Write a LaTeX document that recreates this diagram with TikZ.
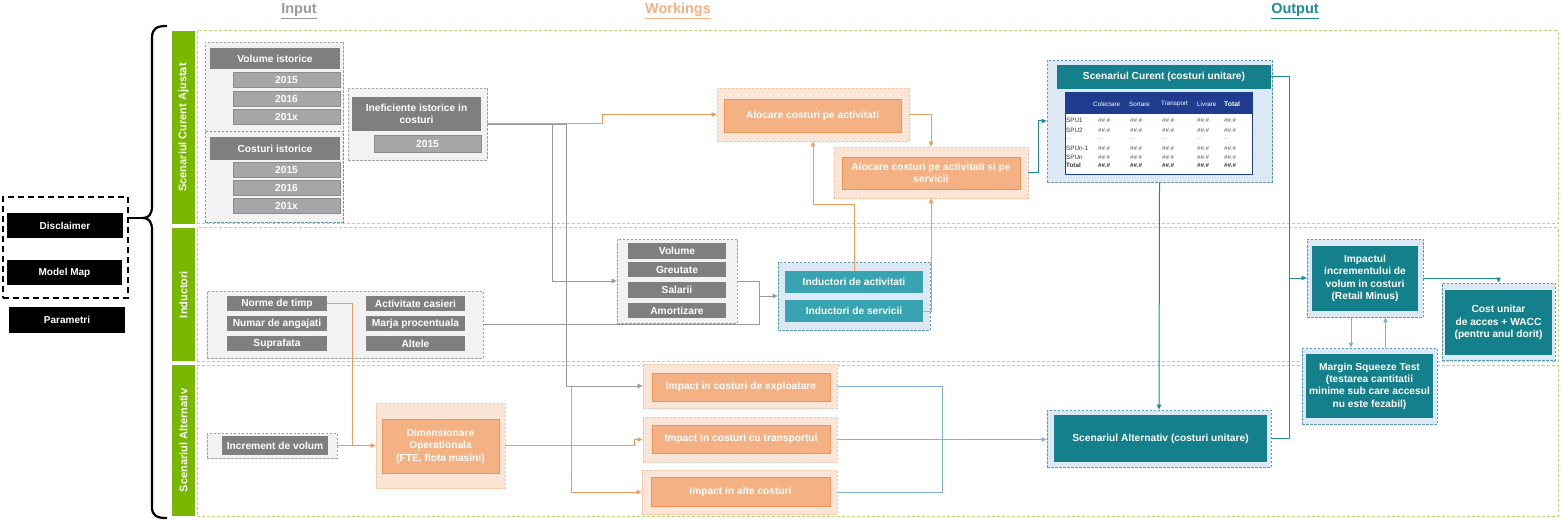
\documentclass[tikz,border=0pt]{standalone}
\usepackage{fontspec}
\setmainfont{Liberation Sans}
\usetikzlibrary{arrows.meta}
\definecolor{dgray}{HTML}{7F7F7F}
\definecolor{lgray}{HTML}{A6A6A6}
\definecolor{ggfill}{HTML}{F2F2F2}
\definecolor{ggbord}{HTML}{A0A0A0}
\definecolor{oin}{HTML}{F4B183}
\definecolor{oinb}{HTML}{EE9455}
\definecolor{oout}{HTML}{FBE5D6}
\definecolor{ooutb}{HTML}{F6C4A3}
\definecolor{olc}{HTML}{F19A5C}
\definecolor{tealc}{HTML}{13808C}
\definecolor{tealm}{HTML}{38A3B1}
\definecolor{tlc}{HTML}{1C8B9A}
\definecolor{bfill}{HTML}{DCE9F5}
\definecolor{bbord}{HTML}{5E9AB0}
\definecolor{gbarc}{HTML}{78B800}
\definecolor{gdash}{HTML}{B9D86E}
\definecolor{lbline}{HTML}{7FB2E0}
\definecolor{navyc}{HTML}{1F3C8F}
\definecolor{glc}{HTML}{9A9A9A}
\newcommand\mybox[7]{%
  \pgfmathsetmacro\mbcx{(#3+#5)/2}\pgfmathsetmacro\mbcy{(#4+#6)/2}%
  \pgfmathsetmacro\mbw{#5-#3}\pgfmathsetmacro\mbh{#6-#4}%
  \node[#1, minimum width=\mbw pt, minimum height=\mbh pt] (#2) at (\mbcx,\mbcy) {#7};}
\tikzset{
  box/.style={inner sep=0pt, align=center, text=white, font=\fontsize{10.2}{12.4}\selectfont\bfseries},
  dbox/.style={box, fill=dgray},
  ybox/.style={box, fill=lgray, draw=gray!90, line width=0.5pt},
  blk/.style={box, fill=black, font=\fontsize{10}{12}\selectfont\bfseries},
  grp/.style={inner sep=0pt, dash pattern=on 2.5pt off 1.5pt, line width=0.8pt},
  ggroup/.style={grp, fill=ggfill, draw=ggbord},
  ggroupb/.style={grp, fill=ggfill, draw=bbord},
  bgroup/.style={grp, fill=bfill, draw=bbord},
  ogroup/.style={grp, fill=oout, draw=ooutb},
  obox/.style={box, fill=oin, draw=oinb, line width=0.8pt},
  tbox/.style={box, fill=tealc},
  tmbox/.style={box, fill=tealm},
  lanebox/.style={inner sep=0pt, draw=gdash, dash pattern=on 3pt off 2pt, line width=1pt},
  navbox/.style={inner sep=0pt, draw=black, dash pattern=on 6pt off 4pt, line width=1.6pt},
  gbar/.style={inner sep=0pt, fill=gbarc, text=white, font=\fontsize{11}{13}\selectfont\bfseries, rotate=90, minimum height=23pt},
  hdr/.style={font=\fontsize{14.5}{16}\selectfont\bfseries},
  gl/.style={draw=glc, line width=0.8pt},
  ol/.style={draw=olc, line width=1pt},
  tl/.style={draw=tlc, line width=1pt},
  bl/.style={draw=lbline, line width=1pt},
  arr/.style={-{Triangle[length=5pt,width=4.5pt]}},
  tblbody/.style={inner sep=0pt, draw=navyc, fill=white, line width=0.8pt},
  tblhead/.style={inner sep=0pt, fill=navyc},
  th/.style={inner sep=0pt, anchor=west, text=white, font=\fontsize{6.3}{7}\selectfont},
  td/.style={inner sep=0pt, anchor=west, text=black!80, font=\fontsize{6.3}{7}\selectfont},
  tv/.style={inner sep=0pt, anchor=west, text=black!65, font=\fontsize{6}{7}\selectfont\itshape},
}
\begin{document}
\begin{tikzpicture}[x=1pt,y=-1pt]
\useasboundingbox (0,0) rectangle (1562,521);

% headers
\node[hdr, text=glc] (hIn) at (299,11) {\underline{Input}};
\node[hdr, text=oin] (hWo) at (678,11) {\underline{Workings}};
\node[hdr, text=tlc] (hOu) at (1295,11) {\underline{Output}};

% left navigation
\mybox{navbox}{navG}{3}{197}{128}{298}{}
\mybox{blk}{disc}{7}{213}{123}{238}{Disclaimer}
\mybox{blk}{mmap}{7}{260}{122}{285}{Model Map}
\mybox{blk}{param}{9}{307}{125}{333}{Parametri}

% brace
\draw[line width=2.2pt] (167,26) .. controls (157,26) and (152,28) .. (152,38) -- (152,206) .. controls (152,214) and (149,218) .. (143,218) .. controls (149,218) and (152,222) .. (152,230) -- (152,507) .. controls (152,516) and (157,518) .. (167,518);
\coordinate (btip) at (143,218);
\draw[line width=1.6pt] (navG.east |- btip) -- (btip);

% lanes
\mybox{lanebox}{lane1}{197}{31}{1558}{224}{}
\mybox{lanebox}{lane2}{197}{228}{1558}{361}{}
\mybox{lanebox}{lane3}{197}{365}{1558}{516}{}
\node[gbar, minimum width=193pt] (bar1) at (183.5,127.5) {Scenariul Curent Ajustat};
\node[gbar, minimum width=133pt] (bar2) at (183.5,294.5) {Inductori};
\node[gbar, minimum width=151pt] (bar3) at (183.5,440.5) {Scenariul Alternativ};

% input lane 1
\mybox{ggroup}{volG}{205}{42}{343}{131}{}
\mybox{ggroupb}{cosG}{205}{131}{343}{222}{}
\mybox{dbox}{volH}{210}{48}{340}{69}{Volume istorice}
\mybox{ybox}{v15}{233}{72}{340}{87}{2015}
\mybox{ybox}{v16}{233}{91}{340}{106}{2016}
\mybox{ybox}{v1x}{233}{109}{340}{124}{201x}
\mybox{dbox}{cosH}{210}{137}{340}{160}{Costuri istorice}
\mybox{ybox}{c15}{233}{162}{340}{177}{2015}
\mybox{ybox}{c16}{233}{180}{340}{195}{2016}
\mybox{ybox}{c1x}{233}{198}{340}{213}{201x}
\mybox{ggroup}{inefG}{348}{88}{487}{160}{}
\mybox{dbox}{inefH}{352}{97}{481}{131}{Ineficiente istorice in\\costuri}
\mybox{ybox}{inef15}{374}{135}{481}{152}{2015}

% input lane 2
\mybox{ggroup}{inpG}{207}{291}{483}{358}{}
\mybox{dbox}{norme}{227}{296}{327}{311}{Norme de timp}
\mybox{dbox}{numar}{227}{316}{327}{331}{Numar de angajati}
\mybox{dbox}{supr}{227}{336}{327}{351}{Suprafata}
\mybox{dbox}{activ}{366}{296}{465}{311}{Activitate casieri}
\mybox{dbox}{marja}{366}{316}{465}{331}{Marja procentuala}
\mybox{dbox}{altele}{366}{336}{465}{351}{Altele}

% input lane 3
\mybox{ggroup}{incG}{207}{433}{337}{458}{}
\mybox{dbox}{inc}{222}{436}{328}{455}{Increment de volum}
\mybox{ogroup}{dimG}{376}{403}{505}{488}{}
\mybox{obox}{dim}{382}{419}{499}{473}{Dimensionare\\Operationala\\(FTE, flota masini)}

% workings
\mybox{ogroup}{al1G}{717}{88}{909}{141}{}
\mybox{obox}{al1}{724}{99}{901}{132}{Alocare costuri pe activitati}
\mybox{ogroup}{al2G}{834}{147}{1028}{198}{}
\mybox{obox}{al2}{842}{157}{1020}{189}{Alocare costuri pe activitati si pe\\servicii}
\mybox{ggroup}{drvG}{617}{239}{737}{323}{}
\mybox{dbox}{dvol}{628}{243}{726}{259}{Volume}
\mybox{dbox}{dgre}{628}{262}{726}{277}{Greutate}
\mybox{dbox}{dsal}{628}{282}{726}{298}{Salarii}
\mybox{dbox}{damo}{628}{303}{726}{318}{Amortizare}
\mybox{bgroup}{indG}{778}{262}{930}{330}{}
\mybox{tmbox}{indA}{785}{271}{923}{293}{Inductori de activitati}
\mybox{tmbox}{indS}{785}{300}{923}{322}{Inductori de servicii}
\mybox{ogroup}{im1G}{643}{364}{837}{408}{}
\mybox{obox}{im1}{652}{373}{830}{401}{Impact in costuri de exploatare}
\mybox{ogroup}{im2G}{643}{417}{837}{462}{}
\mybox{obox}{im2}{652}{425}{830}{453}{Impact in costuri cu transportul}
\mybox{ogroup}{im3G}{642}{470}{837}{514}{}
\mybox{obox}{im3}{651}{477}{830}{506}{Impact in alte costuri}

% output
\mybox{bgroup}{scG}{1047}{60}{1272}{182}{}
\mybox{tbox}{scH}{1057}{65}{1271}{89}{Scenariul Curent (costuri unitare)}
\mybox{tblbody}{tbl}{1065}{92}{1252}{174}{}
\mybox{tblhead}{tblH}{1065}{92}{1252}{114}{}
\foreach \t/\x [count=\i] in {Colectare/1093, Sortare/1129, Transport/1161, Livrare/1197}
  \node[th] (th\i) at (\x,104) {\t};
\node[th, font=\fontsize{6.8}{7}\selectfont\bfseries] (th5) at (1224,104) {Total};
\foreach \r/\y [count=\j] in {SPU1/120, SPU2/130, SPUn-1/148, SPUn/157} {
  \node[td] (rl\j) at (1066,\y) {\r};
  \foreach \x [count=\i] in {1098,1130,1162,1197,1224}
    \node[tv] (v\j-\i) at (\x,\y) {\#\#.\#};
}
\foreach \x [count=\i] in {1066,1098,1130,1162,1197,1224}
  \node[tv, text=black!45] (dd\i) at (\x,139) {...};
\node[td, font=\fontsize{6.3}{7}\selectfont\bfseries] (rlT) at (1066,165) {Total};
\foreach \x [count=\i] in {1098,1130,1162,1197,1224}
  \node[tv, font=\fontsize{6}{7}\selectfont\bfseries\itshape, text=black!80] (vT\i) at (\x,165) {\#\#.\#};

\mybox{bgroup}{saG}{1047}{410}{1271}{467}{}
\mybox{tbox}{sa}{1054}{415}{1267}{462}{Scenariul Alternativ (costuri unitare)}
\mybox{bgroup}{impG}{1307}{239}{1423}{317}{}
\mybox{tbox}{imp}{1312}{246}{1418}{311}{Impactul\\incrementului de\\volum in costuri\\(Retail Minus)}
\mybox{bgroup}{cuG}{1442}{283}{1555}{360}{}
\mybox{tbox}{cu}{1445}{290}{1552}{355}{Cost unitar\\de acces + WACC\\(pentru anul dorit)}
\mybox{bgroup}{msG}{1302}{348}{1437}{424}{}
\mybox{tbox}{ms}{1306}{354}{1433}{418}{Margin Squeeze Test\\(testarea cantitatii\\minime sub care accesul\\nu este fezabil)}

% connectors
\draw[gl,arr] (inefG.east) -- (552,124) |- (drvG.west);
\draw[gl,arr] (inefG.east) -- (566,124) |- (im1G.west);
\draw[ol,arr] (inefG.east) -- (602,124) |- (al1G.west);
\draw[ol] (norme.east) -| (352,445.5);
\draw[ol,arr] (incG.east) -- (dimG.west);
\draw[ol,arr] (dimG.east) -- (634,445.5) |- (im2G.west);
\coordinate (j1) at (571,386);
\draw[ol,arr] (j1) |- (im3G.west);
\draw[gl,arr] (drvG.east) -- (759,281) |- (indG.west);
\draw[gl] (inpG.east) -| (759,296);
\draw[ol,arr] (indA.north) |- (813,205) -| (al1G.south);
\draw[ol,arr] (indS.east) -| (al2G.south);
\draw[ol,arr] (al1G.east) -| (al2G.north);
\draw[tl,arr] (al2G.east) -- (1038,172.5) |- (scG.west);
\draw[tl] (scH.east) -| (1289,438.5) -- (saG.east);
\coordinate (j2) at (1289,278);
\draw[tl,arr] (j2) -- (impG.west);
\draw[tl,arr] (scG.south) -- (saG.north);
\draw[bl] (im1G.east) -| (942,492) -- (im3G.east);
\draw[bl,arr] (im2G.east) -- (saG.west |- im2G.east);
\draw[tl,arr] (impG.east) -| (cuG.north);
\draw[bl,arr] ([xshift=-14pt]impG.south) -- ([xshift=-14pt]impG.south |- msG.north);
\draw[bl,arr] ([xshift=16pt]msG.north) -- ([xshift=16pt]msG.north |- impG.south);
\end{tikzpicture}
\end{document}
